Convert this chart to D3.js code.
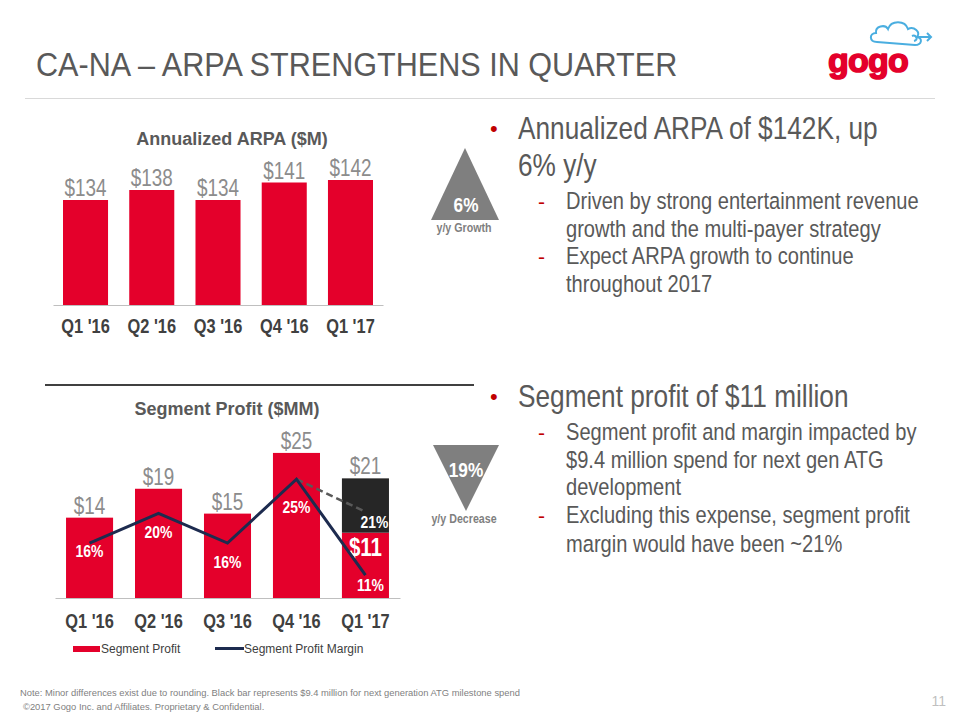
<!DOCTYPE html>
<html><head><meta charset="utf-8">
<script src="https://cdn.jsdelivr.net/npm/d3@7"></script>
<style>
html,body{margin:0;padding:0;background:#fff;}
svg{display:block;}
text{font-family:"Liberation Sans",Arial,sans-serif;}
</style></head>
<body>
<svg id="c" width="960" height="720"></svg>
<script>
const quarters = ["Q1 '16","Q2 '16","Q3 '16","Q4 '16","Q1 '17"];
const arpa = [134, 138, 134, 141, 142];
const arpaLabels = ["$134","$138","$134","$141","$142"];
const segProfit = [13.9, 18.9, 14.6, 25.1, 11.3];
const atgSpend = [0, 0, 0, 0, 9.4];
const segLabels = ["$14","$19","$15","$25","$21"];
const margin = [15.9, 20.1, 15.9, 24.9, 11.4];
const marginLabels = ["16%","20%","16%","25%","11%"];
const marginExATG = 20.3;
const marginExATGLabel = "21%";
const q1RedLabel = "$11";

const RED = "#e4002b", NAVY = "#1d2b4f", DARK = "#262626";
const NS = 0.82; // narrow scale
const svg = d3.select("#c");

// narrow text helper
function nt(parent, x, y, size, txt, opts={}){
  return parent.append("text")
    .attr("transform", `translate(${x},${y}) scale(${opts.ns || NS},1)`)
    .attr("font-size", size).attr("fill", opts.fill || "#595959")
    .attr("text-anchor", opts.anchor || "start")
    .attr("font-weight", opts.weight || "normal")
    .text(txt);
}

// Header
nt(svg, 36, 76, 34, "CA-NA – ARPA STRENGTHENS IN QUARTER", {fill:"#595959", ns:0.9});
svg.append("line").attr("x1",25).attr("x2",935).attr("y1",98.5).attr("y2",98.5)
  .attr("stroke","#d9d9d9").attr("stroke-width",1.2);

// Logo
const logo = svg.append("g");
logo.append("text").attr("x",828).attr("y",72).attr("font-size",34)
  .attr("font-weight","bold").attr("letter-spacing",-0.8).attr("fill",RED)
  .attr("stroke",RED).attr("stroke-width",1.6).attr("stroke-linejoin","round").text("gogo");
logo.append("path")
  .attr("d","M877,42 C869,42 869,33 876,33 C875,26 885,24 888,29 C891,20 905,20 908,29 C914,26 921,32 917,37 C923,38 922,45 915,45 Z")
  .attr("fill","none").attr("stroke","#4aaee0").attr("stroke-width",2);
logo.append("path").attr("d","M912,36 C916,34 919,40 914,41 M917,37 L931,37 M927,33 L931,37 L927,41")
  .attr("fill","none").attr("stroke","#4aaee0").attr("stroke-width",2);

// ---------- ARPA chart ----------
const xA = d3.scaleBand().domain(quarters).range([53,383]).paddingInner(0.32).paddingOuter(0.151);
const yA = d3.scaleLinear().domain([92,142]).range([305,180]);
const gA = svg.append("g");
gA.append("text").attr("x",232).attr("y",145).attr("text-anchor","middle")
  .attr("font-size",18).attr("font-weight","bold").attr("fill","#595959").text("Annualized ARPA ($M)");
gA.selectAll("rect").data(arpa).join("rect")
  .attr("x",(d,i)=>xA(quarters[i])).attr("width",xA.bandwidth())
  .attr("y",d=>yA(d)).attr("height",d=>yA(92)-yA(d)).attr("fill",RED);
arpa.forEach((d,i)=>{
  nt(gA, xA(quarters[i])+xA.bandwidth()/2, yA(d)-4, 23, arpaLabels[i], {anchor:"middle", fill:"#8c8c8c"});
});
const axA = gA.append("g").attr("transform","translate(0,305)")
  .call(d3.axisBottom(xA).tickSize(0).tickPadding(14));
axA.select(".domain").attr("stroke","#bfbfbf").attr("stroke-width",1.2);
axA.selectAll("text").attr("font-size",20).attr("font-weight","bold")
  .attr("fill","#404040").attr("font-family",null).attr("transform",`scale(${NS},1)`);

// ---------- Segment profit chart ----------
svg.append("line").attr("x1",45).attr("x2",474).attr("y1",385).attr("y2",385)
  .attr("stroke","#404040").attr("stroke-width",2);
const xS = d3.scaleBand().domain(quarters).range([55,400]).paddingInner(0.318).paddingOuter(0.16);
const yS = d3.scaleLinear().domain([0,30]).range([598,424.6]);
const yM = d3.scaleLinear().domain([0,30]).range([656,443]);
const cx = i => xS(quarters[i]) + xS.bandwidth()/2;
const gS = svg.append("g");
gS.append("text").attr("x",227).attr("y",415).attr("text-anchor","middle")
  .attr("font-size",18).attr("font-weight","bold").attr("fill","#595959").text("Segment Profit ($MM)");
gS.selectAll("rect.p").data(segProfit).join("rect").attr("class","p")
  .attr("x",(d,i)=>xS(quarters[i])).attr("width",xS.bandwidth())
  .attr("y",d=>yS(d)).attr("height",d=>yS(0)-yS(d)).attr("fill",RED);
gS.selectAll("rect.a").data(atgSpend).join("rect").attr("class","a")
  .attr("x",(d,i)=>xS(quarters[i])).attr("width",xS.bandwidth())
  .attr("y",(d,i)=>yS(segProfit[i]+d)).attr("height",(d,i)=>yS(segProfit[i])-yS(segProfit[i]+d))
  .attr("fill",DARK);
segProfit.forEach((d,i)=>{
  nt(gS, cx(i), yS(d+atgSpend[i])-4, 23, segLabels[i], {anchor:"middle", fill:"#8c8c8c"});
});
nt(gS, cx(4), yS(segProfit[4])+23, 25, q1RedLabel, {anchor:"middle", fill:"#fff", weight:"bold"});
const axS = gS.append("g").attr("transform","translate(0,598)")
  .call(d3.axisBottom(xS).tickSize(0).tickPadding(16));
axS.select(".domain").attr("stroke","#bfbfbf").attr("stroke-width",1.2);
axS.selectAll("text").attr("font-size",20).attr("font-weight","bold")
  .attr("fill","#404040").attr("font-family",null).attr("transform",`scale(${NS},1)`);

// dashed ex-ATG line
gS.append("line").attr("x1",cx(3)).attr("y1",yM(margin[3])).attr("x2",cx(4)).attr("y2",yM(marginExATG))
  .attr("stroke","#595959").attr("stroke-width",2.5).attr("stroke-dasharray","7,4");
// margin line
const line = d3.line().x((d,i)=>cx(i)).y(d=>yM(d));
gS.append("path").datum(margin).attr("d",line).attr("fill","none")
  .attr("stroke",NAVY).attr("stroke-width",3);
// margin labels
const mOff = [14, 25, 25, 34, 16];
const mDx = [0, 0, 0, 0, 5];
margin.forEach((d,i)=>{
  nt(gS, cx(i)+mDx[i], yM(d)+mOff[i], 17, marginLabels[i], {anchor:"middle", fill:"#fff", weight:"bold"});
});
nt(gS, cx(4)+9, yM(marginExATG)+16, 17, marginExATGLabel, {anchor:"middle", fill:"#fff", weight:"bold"});

// legend
const lg = svg.append("g");
lg.append("rect").attr("x",73).attr("y",646).attr("width",27).attr("height",6).attr("fill",RED);
lg.append("text").attr("x",101).attr("y",653).attr("font-size",12).attr("fill","#404040").text("Segment Profit");
lg.append("line").attr("x1",215).attr("x2",244).attr("y1",648.5).attr("y2",648.5).attr("stroke",NAVY).attr("stroke-width",3);
lg.append("text").attr("x",244).attr("y",653).attr("font-size",12).attr("fill","#404040").text("Segment Profit Margin");

// triangles
svg.append("path").attr("d","M465,148 L499,220 L431,220 Z").attr("fill","#7f7f7f");
nt(svg, 466, 212, 21, "6%", {anchor:"middle", fill:"#fff", weight:"bold"});
nt(svg, 464, 232, 13, "y/y Growth", {anchor:"middle", fill:"#7f7f7f", weight:"bold"});
svg.append("path").attr("d","M433,445 L499,445 L466,511 Z").attr("fill","#7f7f7f");
nt(svg, 466, 477, 21, "19%", {anchor:"middle", fill:"#fff", weight:"bold"});
nt(svg, 464, 523, 13, "y/y Decrease", {anchor:"middle", fill:"#7f7f7f", weight:"bold"});

// right-side text
function bullet(y, txt){
  svg.append("text").attr("x",490).attr("y",y-3).attr("font-size",22).attr("fill","#c00000").text("•");
  nt(svg, 518, y, 32, txt);
}
function cont(y, txt){ nt(svg, 518, y, 32, txt); }
function sub(y, txt, dash){
  if(dash) svg.append("text").attr("x",538).attr("y",y).attr("font-size",21).attr("fill","#c00000").text("-");
  nt(svg, 566, y, 24.5, txt);
}
bullet(139,"Annualized ARPA of $142K, up");
cont(176,"6% y/y");
sub(209,"Driven by strong entertainment revenue",true);
sub(237,"growth and the multi-payer strategy",false);
sub(264,"Expect ARPA growth to continue",true);
sub(292,"throughout 2017",false);
bullet(407,"Segment profit of $11 million");
sub(440,"Segment profit and margin impacted by",true);
sub(468,"$9.4 million spend for next gen ATG",false);
sub(495,"development",false);
sub(523,"Excluding this expense, segment profit",true);
sub(552,"margin would have been ~21%",false);

// footer
svg.append("text").attr("x",20).attr("y",696).attr("font-size",9.4).attr("fill","#7f7f7f")
  .text("Note: Minor differences exist due to rounding. Black bar represents $9.4 million for next generation ATG milestone spend");
svg.append("text").attr("x",23).attr("y",710).attr("font-size",9.4).attr("fill","#7f7f7f")
  .text("©2017 Gogo Inc. and Affiliates. Proprietary & Confidential.");
svg.append("text").attr("x",946).attr("y",706).attr("text-anchor","end").attr("font-size",14).attr("fill","#bfbfbf").text("11");
</script>
</body></html>
